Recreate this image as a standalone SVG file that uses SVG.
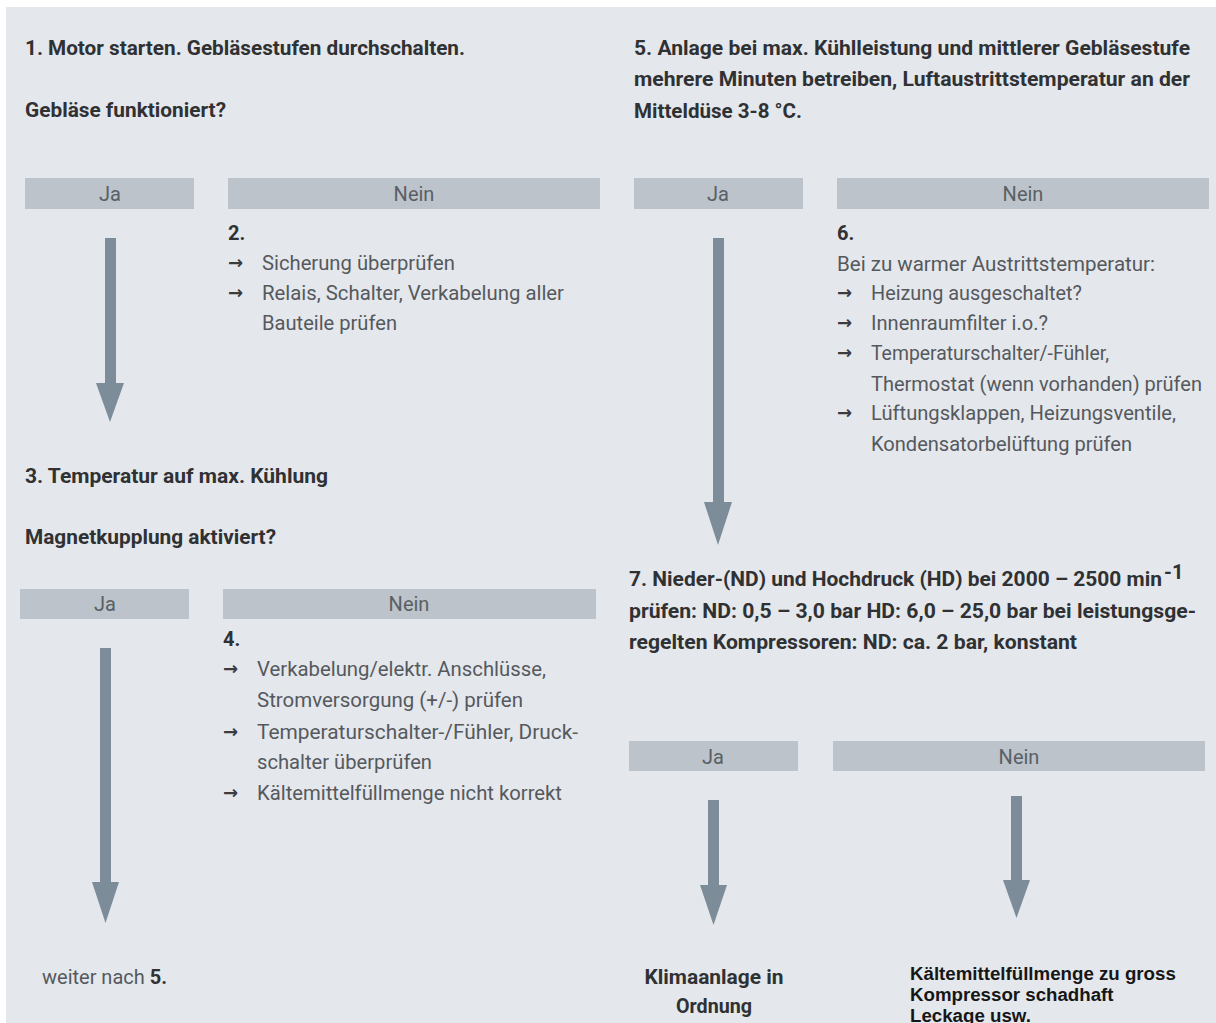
<svg xmlns="http://www.w3.org/2000/svg" width="1216" height="1023" viewBox="0 0 1216 1023">
<style>
.bg{fill:#e4e7ec}
.bar{fill:#bcc3cb}
.bt{font-family:Roboto,"Liberation Sans",sans-serif;font-size:20px;fill:#5a5f64;text-anchor:middle}
.h{font-family:Roboto,"Liberation Sans",sans-serif;font-size:20px;font-weight:bold;fill:#2f3133}
.b{font-family:Roboto,"DejaVu Sans",sans-serif;font-size:20px;fill:#55595d}
.ar{font-family:"DejaVu Sans",sans-serif;font-size:18px;font-weight:bold;fill:#3a3c3e}
.a{font-family:"Liberation Sans",Arial,sans-serif;font-size:18.7px;font-weight:bold;fill:#161616}
.arrow{fill:#7c8d99}
</style>
<rect width="1216" height="1023" fill="#ffffff"/>
<rect class="bg" x="6" y="7" width="1210" height="1016"/>

<g id="step1">
<text class="h" x="25" y="55" textLength="440" lengthAdjust="spacingAndGlyphs">1. Motor starten. Gebläsestufen durchschalten.</text>
<text class="h" x="25" y="117" textLength="201" lengthAdjust="spacingAndGlyphs">Gebläse funktioniert?</text>
</g>
<g id="ja1"><rect class="bar" x="25" y="178" width="169" height="31"/><text class="bt" x="110" y="201">Ja</text></g>
<g id="nein1"><rect class="bar" x="228" y="178" width="372" height="31"/><text class="bt" x="414" y="201">Nein</text></g>
<g id="step2">
<text class="h" x="228" y="240">2.</text>
<text class="ar" x="228" y="269">→</text>
<text class="b" x="262" y="270" textLength="193" lengthAdjust="spacingAndGlyphs">Sicherung überprüfen</text>
<text class="ar" x="228" y="299">→</text>
<text class="b" x="262" y="300" textLength="302" lengthAdjust="spacingAndGlyphs">Relais, Schalter, Verkabelung aller</text>
<text class="b" x="262" y="330" textLength="135" lengthAdjust="spacingAndGlyphs">Bauteile prüfen</text>
</g>

<g id="step3">
<text class="h" x="25" y="483" textLength="303" lengthAdjust="spacingAndGlyphs">3. Temperatur auf max. Kühlung</text>
<text class="h" x="25" y="544" textLength="251" lengthAdjust="spacingAndGlyphs">Magnetkupplung aktiviert?</text>
</g>
<g id="ja3"><rect class="bar" x="20" y="589" width="169" height="30"/><text class="bt" x="105" y="611">Ja</text></g>
<g id="nein3"><rect class="bar" x="223" y="589" width="373" height="30"/><text class="bt" x="409" y="611">Nein</text></g>
<g id="step4">
<text class="h" x="223" y="646">4.</text>
<text class="ar" x="223" y="675">→</text>
<text class="b" x="257" y="676" textLength="289" lengthAdjust="spacingAndGlyphs">Verkabelung/elektr. Anschlüsse,</text>
<text class="b" x="257" y="707" textLength="266" lengthAdjust="spacingAndGlyphs">Stromversorgung (+/-) prüfen</text>
<text class="ar" x="223" y="738">→</text>
<text class="b" x="257" y="739" textLength="321" lengthAdjust="spacingAndGlyphs">Temperaturschalter-/Fühler, Druck-</text>
<text class="b" x="257" y="769" textLength="175" lengthAdjust="spacingAndGlyphs">schalter überprüfen</text>
<text class="ar" x="223" y="799">→</text>
<text class="b" x="257" y="800" textLength="305" lengthAdjust="spacingAndGlyphs">Kältemittelfüllmenge nicht korrekt</text>
</g>
<g id="weiter">
<text class="b" x="42" y="984" textLength="125" lengthAdjust="spacingAndGlyphs">weiter nach <tspan font-weight="bold" fill="#2f3133">5.</tspan></text>
</g>

<g id="step5">
<text class="h" x="634" y="55" textLength="556" lengthAdjust="spacingAndGlyphs">5. Anlage bei max. Kühlleistung und mittlerer Gebläsestufe</text>
<text class="h" x="634" y="86" textLength="556" lengthAdjust="spacingAndGlyphs">mehrere Minuten betreiben, Luftaustrittstemperatur an der</text>
<text class="h" x="634" y="118" textLength="168" lengthAdjust="spacingAndGlyphs">Mitteldüse 3-8 °C.</text>
</g>
<g id="ja5"><rect class="bar" x="634" y="178" width="169" height="31"/><text class="bt" x="718" y="201">Ja</text></g>
<g id="nein5"><rect class="bar" x="837" y="178" width="372" height="31"/><text class="bt" x="1023" y="201">Nein</text></g>
<g id="step6">
<text class="h" x="837" y="240">6.</text>
<text class="b" x="837" y="271" textLength="318" lengthAdjust="spacingAndGlyphs">Bei zu warmer Austrittstemperatur:</text>
<text class="ar" x="837" y="299">→</text>
<text class="b" x="871" y="300" textLength="211" lengthAdjust="spacingAndGlyphs">Heizung ausgeschaltet?</text>
<text class="ar" x="837" y="329">→</text>
<text class="b" x="871" y="330" textLength="177" lengthAdjust="spacingAndGlyphs">Innenraumfilter i.o.?</text>
<text class="ar" x="837" y="359">→</text>
<text class="b" x="871" y="360" textLength="238" lengthAdjust="spacingAndGlyphs">Temperaturschalter/-Fühler,</text>
<text class="b" x="871" y="391" textLength="331" lengthAdjust="spacingAndGlyphs">Thermostat (wenn vorhanden) prüfen</text>
<text class="ar" x="837" y="419">→</text>
<text class="b" x="871" y="420" textLength="305" lengthAdjust="spacingAndGlyphs">Lüftungsklappen, Heizungsventile,</text>
<text class="b" x="871" y="451" textLength="261" lengthAdjust="spacingAndGlyphs">Kondensatorbelüftung prüfen</text>
</g>

<g id="step7">
<text class="h" x="629" y="586" textLength="533" lengthAdjust="spacingAndGlyphs">7. Nieder-(ND) und Hochdruck (HD) bei 2000 – 2500 min</text>
<text class="h" x="1164" y="579" font-size="10">-1</text>
<text class="h" x="629" y="618" textLength="567" lengthAdjust="spacingAndGlyphs">prüfen: ND: 0,5 – 3,0 bar HD: 6,0 – 25,0 bar bei leistungsge-</text>
<text class="h" x="629" y="649" textLength="448" lengthAdjust="spacingAndGlyphs">regelten Kompressoren: ND: ca. 2 bar, konstant</text>
</g>
<g id="ja7"><rect class="bar" x="629" y="741" width="169" height="30"/><text class="bt" x="713" y="764">Ja</text></g>
<g id="nein7"><rect class="bar" x="833" y="741" width="372" height="30"/><text class="bt" x="1019" y="764">Nein</text></g>
<g id="ok">
<text class="h" x="714" y="984" text-anchor="middle" textLength="139" lengthAdjust="spacingAndGlyphs">Klimaanlage in</text>
<text class="h" x="714" y="1013" text-anchor="middle" textLength="76" lengthAdjust="spacingAndGlyphs">Ordnung</text>
</g>
<g id="fehler">
<text class="a" x="910" y="980">Kältemittelfüllmenge zu gross</text>
<text class="a" x="910" y="1001">Kompressor schadhaft</text>
<text class="a" x="910" y="1022">Leckage usw.</text>
</g>

<g id="connectors">
<path class="arrow" d="M105,238 H116 V383 H124 L110,422 L96,383 H105 Z"/>
<path class="arrow" d="M100,648 H111 V882 H119 L105.5,923 L92,882 H100 Z"/>
<path class="arrow" d="M713,238 H724 V502 H732 L718,545 L704,502 H713 Z"/>
<path class="arrow" d="M708,800 H719 V885 H727 L713.5,925 L700,885 H708 Z"/>
<path class="arrow" d="M1011,796 H1022 V880 H1030 L1016.5,918 L1003,880 H1011 Z"/>
</g>
</svg>
